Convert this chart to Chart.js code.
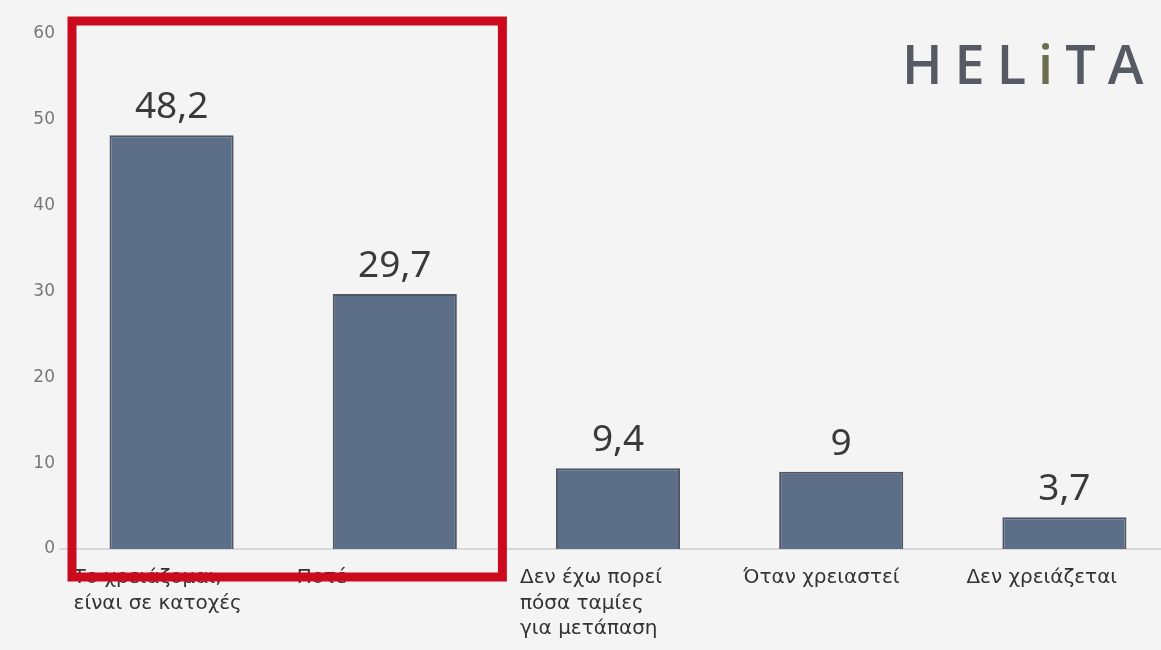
<!DOCTYPE html>
<html>
<head>
<meta charset="utf-8">
<script src="https://cdn.jsdelivr.net/npm/chart.js@4.4.1/dist/chart.umd.min.js"></script>
<style>
  html, body { margin: 0; padding: 0; background: #f4f4f4; overflow: hidden; }
  #wrap { position: relative; width: 1180px; height: 650px; }
  #logo {
    position: absolute; left: 902px; top: 26px;
    font-family: "Open Sans", sans-serif; font-size: 54px; letter-spacing: 12px;
    color: #565b63; font-weight: 600;
  }
  #logo .i { color: #6b6f50; }
</style>
</head>
<body>
<div id="wrap">
  <canvas id="chart" width="1180" height="650"></canvas>
  <div id="logo">HEL<span class="i">i</span>TA</div>
</div>
<script>
const categories = [
  ["Το χρειάζομαι,", "είναι σε κατοχές"],
  ["Ποτέ"],
  ["Δεν έχω πορεί", "πόσα ταμίες", "για μετάπαση"],
  ["Όταν χρειαστεί"],
  ["Δεν χρειάζεται"]
];
const values = [48.2, 29.7, 9.4, 9, 3.7];
const yTicks = [0, 10, 20, 30, 40, 50, 60];

// values above bars, comma decimals
const valueLabels = {
  id: "valueLabels",
  afterDatasetsDraw(chart) {
    const ctx = chart.ctx;
    const meta = chart.getDatasetMeta(0);
    ctx.save();
    ctx.font = "37px 'Noto Sans', sans-serif";
    ctx.fillStyle = "#3a3a3a";
    ctx.textAlign = "center";
    ctx.textBaseline = "alphabetic";
    meta.data.forEach((bar, i) => {
      ctx.fillText(String(values[i]).replace(".", ","), bar.x, bar.y - 17);
    });
    ctx.restore();
  }
};

// red frame round the first two categories
const redBox = {
  id: "redBox",
  afterDraw(chart) {
    const x = chart.scales.x, y = chart.scales.y;
    const half = (x.getPixelForValue(1) - x.getPixelForValue(0)) / 2;
    const left = x.getPixelForValue(0) - half + 12;
    const right = x.getPixelForValue(1) + half - 4;
    const top = y.getPixelForValue(60) - 13;
    const bottom = y.getPixelForValue(0) + 28;
    const ctx = chart.ctx;
    ctx.save();
    ctx.strokeStyle = "#cc0a1e";
    ctx.lineWidth = 9;
    ctx.strokeRect(left, top, right - left, bottom - top);
    ctx.restore();
  }
};

new Chart(document.querySelector("#chart").getContext("2d"), {
  type: "bar",
  data: {
    labels: categories,
    datasets: [{
      data: values,
      backgroundColor: "#5d6f88",
      borderColor: "#4f5563",
      borderWidth: 2,
      categoryPercentage: 1,
      barPercentage: 0.556
    }]
  },
  options: {
    responsive: false,
    animation: false,
    layout: { padding: { top: 34, right: 4, left: 0, bottom: 0 } },
    plugins: { legend: { display: false }, tooltip: { enabled: false } },
    scales: {
      x: {
        grid: { display: false },
        border: { color: "#d8d8d8", width: 2 },
        ticks: {
          color: "#333",
          font: { family: "DejaVu Sans", size: 20, lineHeight: 1.28 },
          align: "start",
          labelOffset: -98,
          maxRotation: 0,
          autoSkip: false,
          padding: 8
        },
        afterFit(scale) {
          scale.height = 101;
          scale.paddingLeft = 0;
          scale.paddingRight = 0;
        }
      },
      y: {
        min: 0, max: 60,
        afterBuildTicks(scale) { scale.ticks = yTicks.map(v => ({ value: v })); },
        grid: { display: false, drawTicks: false },
        border: { display: false },
        ticks: {
          color: "#777",
          font: { family: "DejaVu Sans", size: 17 },
          padding: 5
        },
        afterFit(scale) { scale.width = 60; }
      }
    }
  },
  plugins: [valueLabels, redBox]
});
</script>
</body>
</html>
